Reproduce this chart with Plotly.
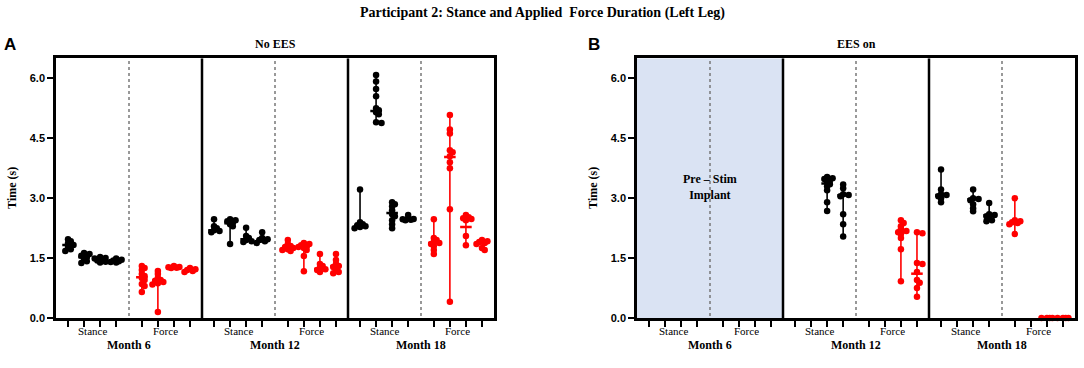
import plotly.graph_objects as go
import numpy as np

months = ["Month 6", "Month 12", "Month 18"]
phases = ["Stance", "Force"]
panel_titles = ["No EES", "EES on"]
panel_letters = ["A", "B"]
ytick_vals = [0, 1.5, 3.0, 4.5, 6.0]
ytick_text = ["0.0", "1.5", "3.0", "4.5", "6.0"]
main_title = "Participant 2: Stance and Applied  Force Duration (Left Leg)"
y_title = "Time (s)"
pre_stim_text = "Pre – Stim<br>Implant"

# ---- Panel A (No EES) ----
A_m6_stance = [[1.97, 1.92, 1.87, 1.83, 1.78, 1.72, 1.68],
               [1.63, 1.6, 1.56, 1.52, 1.47, 1.42, 1.38],
               [1.53, 1.5, 1.49, 1.47, 1.44, 1.41, 1.39],
               [1.49, 1.46, 1.44, 1.42, 1.4, 1.39]]
A_m6_stance_med = [1.83, 1.52, 1.48, 1.42]
A_m6_force = [[1.3, 1.25, 1.2, 1.1, 1.05, 1.0, 0.95, 0.85, 0.8, 0.65],
              [1.18, 1.1, 1.0, 0.95, 0.93, 0.9, 0.87, 0.84, 0.15],
              [1.3, 1.28, 1.27, 1.26, 1.25],
              [1.25, 1.22, 1.2, 1.18, 1.15]]
A_m6_force_med = [1.02, 0.93, 1.27, 1.2]
A_m12_stance = [[2.47, 2.3, 2.25, 2.2, 2.18, 2.15],
                [2.47, 2.45, 2.42, 2.4, 2.35, 2.3, 1.85],
                [2.26, 2.05, 2.0, 1.95, 1.92, 1.9],
                [2.15, 2.0, 1.97, 1.95, 1.92, 1.88]]
A_m12_stance_med = [2.2, 2.37, 1.97, 1.95]
A_m12_force = [[1.95, 1.85, 1.8, 1.78, 1.75, 1.72, 1.7, 1.68],
               [1.88, 1.85, 1.82, 1.8, 1.78, 1.75, 1.7, 1.55, 1.17],
               [1.6, 1.35, 1.3, 1.25, 1.22, 1.2, 1.15],
               [1.6, 1.45, 1.35, 1.3, 1.28, 1.2, 1.15, 1.12]]
A_m12_force_med = [1.75, 1.78, 1.23, 1.3]
A_m18_stance = [[3.22, 2.4, 2.35, 2.32, 2.3, 2.28, 2.25],
                [6.08, 5.92, 5.73, 5.55, 5.25, 5.2, 5.15, 5.1, 4.9, 4.88],
                [2.9, 2.85, 2.8, 2.7, 2.6, 2.55, 2.45, 2.35, 2.25],
                [2.58, 2.5, 2.48, 2.47, 2.46, 2.45]]
A_m18_stance_med = [2.32, 5.18, 2.63, 2.47]
A_m18_force = [[2.47, 2.0, 1.95, 1.9, 1.88, 1.85, 1.8, 1.7, 1.6],
               [5.08, 4.72, 4.62, 4.2, 4.15, 4.05, 3.9, 3.75, 2.72, 0.41],
               [2.58, 2.52, 2.5, 2.48, 2.45, 2.05, 1.82],
               [1.95, 1.92, 1.9, 1.88, 1.85, 1.75, 1.7]]
A_m18_force_med = [1.88, 4.03, 2.28, 1.88]

# ---- Panel B (EES on) ----
B_m6_stance = [[], [], [], []]
B_m6_stance_med = [None, None, None, None]
B_m6_force = [[], [], [], []]
B_m6_force_med = [None, None, None, None]
B_m12_stance = [[], [],
                [3.53, 3.5, 3.48, 3.45, 3.4, 3.35, 3.3, 3.2, 2.9, 2.68],
                [3.34, 3.25, 3.1, 3.08, 3.05, 2.6, 2.35, 2.04]]
B_m12_stance_med = [None, None, 3.37, 3.07]
B_m12_force = [[], [],
               [2.45, 2.38, 2.3, 2.22, 2.18, 2.15, 2.1, 2.0, 1.72, 0.92],
               [2.15, 2.12, 1.38, 1.35, 1.15, 0.95, 0.88, 0.75, 0.53]]
B_m12_force_med = [None, None, 2.15, 1.11]
B_m18_stance = [[3.72, 3.22, 3.1, 3.08, 3.05, 3.0, 2.9],
                [],
                [3.22, 3.0, 2.98, 2.95, 2.85, 2.75, 2.67],
                [2.88, 2.6, 2.58, 2.55, 2.5, 2.45, 2.42]]
B_m18_stance_med = [3.08, None, 2.97, 2.57]
B_m18_force = [[3.0, 2.45, 2.42, 2.4, 2.38, 2.35, 2.1],
               [],
               [0, 0, 0, 0],
               [0, 0, 0, 0]]
B_m18_force_med = [2.4, None, 0, 0]

panels = [
    [(A_m6_stance, A_m6_stance_med, A_m6_force, A_m6_force_med),
     (A_m12_stance, A_m12_stance_med, A_m12_force, A_m12_force_med),
     (A_m18_stance, A_m18_stance_med, A_m18_force, A_m18_force_med)],
    [(B_m6_stance, B_m6_stance_med, B_m6_force, B_m6_force_med),
     (B_m12_stance, B_m12_stance_med, B_m12_force, B_m12_force_med),
     (B_m18_stance, B_m18_stance_med, B_m18_force, B_m18_force_med)],
]

# ---- layout geometry ----
W, H = 1084, 368
SEC = 9.1
stance_pos = [0.75, 1.75, 2.75, 3.75]
force_pos = [5.35, 6.35, 7.35, 8.35]
divider = 4.55
YMAX = 6.5
px_per_x = 146 / SEC
px_per_y = 40.55
dom_y = [(H - 323.3) / H, (H - 59.3) / H]
dom_x = [[56 / W, 494 / W], [637 / W, 1075 / W]]
letter_x = [10, 594]
ytitle_x = [12, 593]
BLACK = "#000000"
RED = "#ff0000"


def swarm(vals, center):
    """Compact beeswarm placement: dots at similar heights are nudged sideways."""
    placed = []
    order = np.argsort(-np.array(vals, dtype=float))
    out = [center] * len(vals)
    diam = 3.2
    steps = [0, 0.17, -0.17, 0.34, -0.34]
    for i in order:
        v = vals[i]
        best, best_cost = 0.0, None
        for st in steps:
            cost = 0
            for (px, py) in placed:
                dx = (st - px) * px_per_x
                dy = (v - py) * px_per_y
                d2 = dx * dx + dy * dy
                if d2 < diam * diam:
                    cost += diam * diam - d2
            if cost == 0:
                best = st
                best_cost = 0
                break
            if best_cost is None or cost < best_cost:
                best, best_cost = st, cost
        placed.append((best, v))
        out[i] = center + best
    return out


fig = go.Figure()
shapes = []
annotations = []

for p, secs in enumerate(panels):
    xa = "x" if p == 0 else "x2"
    ya = "y" if p == 0 else "y2"
    tickvals = []
    for s, (st, st_med, fo, fo_med) in enumerate(secs):
        off = s * SEC
        tickvals += [off + v for v in stance_pos] + [off + v for v in force_pos]
        for groups, meds, poss, col in [(st, st_med, stance_pos, BLACK),
                                        (fo, fo_med, force_pos, RED)]:
            for g, pos, med in zip(groups, poss, meds):
                if not g:
                    continue
                cx = off + pos
                fig.add_trace(go.Scatter(x=[cx, cx], y=[min(g), max(g)], mode="lines",
                                         line=dict(color=col, width=1.6),
                                         xaxis=xa, yaxis=ya, showlegend=False,
                                         hoverinfo="skip"))
                fig.add_trace(go.Scatter(x=swarm(g, cx), y=g, mode="markers",
                                         marker=dict(color=col, size=6.5, line=dict(width=0)),
                                         cliponaxis=False,
                                         xaxis=xa, yaxis=ya, showlegend=False))
                if med is not None:
                    fig.add_trace(go.Scatter(x=[cx - 0.36, cx + 0.36], y=[med, med], mode="lines",
                                             line=dict(color=col, width=2.5),
                                             xaxis=xa, yaxis=ya, showlegend=False,
                                             hoverinfo="skip"))
        shapes.append(dict(type="line", xref=xa, yref=ya, x0=off + divider, x1=off + divider,
                           y0=0.05, y1=YMAX - 0.05,
                           line=dict(color="#777777", width=1.5, dash="dot")))
        if s > 0:
            shapes.append(dict(type="line", xref=xa, yref=ya, x0=off, x1=off, y0=0, y1=YMAX,
                               line=dict(color=BLACK, width=2.5)))
        annotations.append(dict(x=off + (stance_pos[0] + stance_pos[-1]) / 2, y=(H - 336) / H,
                                xref=xa, yref="paper", xanchor="center", yanchor="middle",
                                text=phases[0], showarrow=False,
                                font=dict(family="Liberation Serif", size=11, color=BLACK)))
        annotations.append(dict(x=off + (force_pos[0] + force_pos[-1]) / 2, y=(H - 336) / H,
                                xref=xa, yref="paper", xanchor="center", yanchor="middle",
                                text=phases[1], showarrow=False,
                                font=dict(family="Liberation Serif", size=11, color=BLACK)))
        annotations.append(dict(x=off + SEC / 2, y=(H - 351) / H,
                                xref=xa, yref="paper", xanchor="center", yanchor="middle",
                                text="<b>" + months[s] + "</b>", showarrow=False,
                                font=dict(family="Liberation Serif", size=12, color=BLACK)))
    annotations.append(dict(x=SEC * 1.5, y=(H - 45) / H, xref=xa, yref="paper",
                            xanchor="center", yanchor="middle",
                            text="<b>" + panel_titles[p] + "</b>", showarrow=False,
                            font=dict(family="Liberation Serif", size=12, color=BLACK)))
    annotations.append(dict(x=letter_x[p] / W, y=(H - 45) / H, xref="paper",
                            yref="paper", xanchor="center", yanchor="middle",
                            text="<b>" + panel_letters[p] + "</b>", showarrow=False,
                            font=dict(family="Liberation Sans", size=17, color=BLACK)))
    annotations.append(dict(x=ytitle_x[p] / W, y=(H - 191) / H, xref="paper",
                            yref="paper", xanchor="center", yanchor="middle",
                            text="<b>" + y_title + "</b>", textangle=-90,
                            showarrow=False,
                            font=dict(family="Liberation Serif", size=12, color=BLACK)))

    axx = dict(domain=dom_x[p], range=[0, 3 * SEC], showgrid=False, zeroline=False,
               showline=True, linecolor=BLACK, linewidth=2.5, mirror=True,
               tickmode="array", tickvals=tickvals, ticks="outside", ticklen=6,
               tickwidth=2, tickcolor=BLACK, showticklabels=False, anchor=ya)
    axy = dict(domain=dom_y, range=[0, YMAX], showgrid=False, zeroline=False,
               showline=True, linecolor=BLACK, linewidth=2.5, mirror=True,
               tickmode="array", tickvals=ytick_vals, ticktext=ytick_text,
               ticks="outside", ticklen=6, tickwidth=2, tickcolor=BLACK,
               tickfont=dict(family="Liberation Sans", size=11, color=BLACK, weight="bold"),
               anchor=xa)
    if p == 0:
        fig.update_layout(xaxis=axx, yaxis=axy)
    else:
        fig.update_layout(xaxis2=axx, yaxis2=axy)

shapes.insert(0, dict(type="rect", xref="x2", yref="y2", x0=0, x1=SEC, y0=0, y1=YMAX,
                      fillcolor="#dae3f3", line=dict(width=0), layer="below"))
annotations.append(dict(x=SEC / 2, y=3.28, xref="x2", yref="y2",
                        xanchor="center", yanchor="middle",
                        text="<b>" + pre_stim_text + "</b>", showarrow=False,
                        font=dict(family="Liberation Serif", size=12, color=BLACK)))
annotations.append(dict(x=0.5, y=(H - 13) / H, xref="paper", yref="paper",
                        xanchor="center", yanchor="middle",
                        text="<b>" + main_title + "</b>", showarrow=False,
                        font=dict(family="Liberation Serif", size=14, color=BLACK)))

fig.update_layout(width=W, height=H, margin=dict(l=0, r=0, t=0, b=0),
                  paper_bgcolor="white", plot_bgcolor="white",
                  shapes=shapes, annotations=annotations, showlegend=False)

fig.write_html("out.html", config={"displayModeBar": False},
               post_script="document.body.style.margin='0px';")
